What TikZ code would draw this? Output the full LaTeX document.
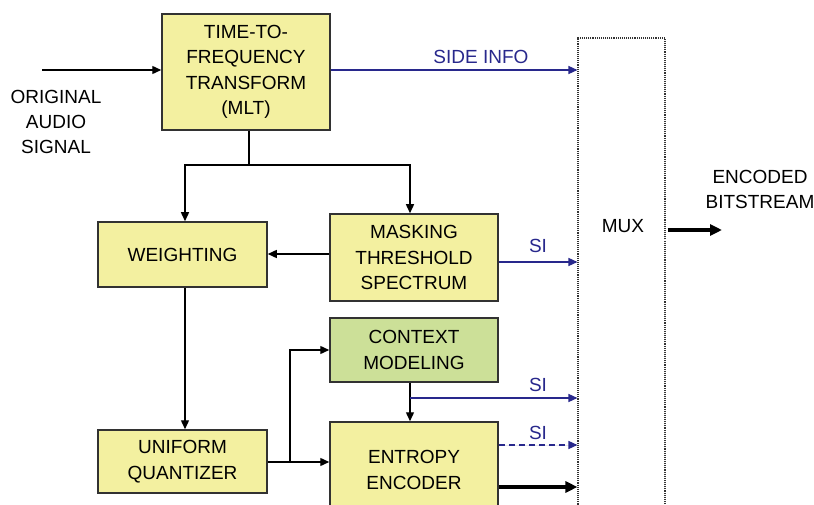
\documentclass[tikz,border=0pt]{standalone}
\usepackage{fontspec}
\setmainfont{Liberation Sans}
\usetikzlibrary{arrows.meta}
\definecolor{boxyellow}{RGB}{243,240,160}
\definecolor{boxgreen}{RGB}{204,224,152}
\definecolor{sinavy}{RGB}{40,40,140}
\definecolor{edgegray}{RGB}{50,50,50}
\begin{document}
\begin{tikzpicture}[x=1pt,y=-1pt,
  blk/.style={draw=edgegray, line width=1.5pt, fill=boxyellow, align=center, inner sep=0pt,
    font=\fontsize{19}{25.5}\selectfont},
  lbl/.style={align=center, inner sep=0pt, font=\fontsize{19}{25}\selectfont},
  silbl/.style={lbl, text=sinavy},
  arr/.style={line width=1.4pt, -{Triangle[length=9pt,width=8pt]}},
  siarr/.style={arr, draw=sinavy, fill=sinavy},
  thick arr/.style={line width=3.2pt, -{Triangle[length=12pt,width=11pt]}}
]
\useasboundingbox (0,0) rectangle (814,505);
\clip (0,0) rectangle (814,505);
% blocks
\node[blk, minimum width=168pt, minimum height=116pt] (ttf) at (246,72) {TIME-TO-\\FREQUENCY\\TRANSFORM\\(MLT)};
\node[blk, minimum width=169pt, minimum height=65pt] (wt) at (182.5,254.5) {WEIGHTING};
\node[blk, minimum width=168pt, minimum height=87pt] (mask) at (414,257.5) {MASKING\\THRESHOLD\\SPECTRUM};
\node[blk, minimum width=169pt, minimum height=63pt] (uq) at (182.5,461.5) {UNIFORM\\QUANTIZER};
\node[blk, fill=boxgreen, minimum width=168pt, minimum height=64pt] (cm) at (414,350) {CONTEXT\\MODELING};
\node[blk, minimum width=168pt, minimum height=96pt] (ee) at (414,470) {ENTROPY\\ENCODER};
\node[draw=black!80, densely dotted, line width=1.1pt, minimum width=87pt, minimum height=482pt, inner sep=0pt] (mux) at (621.5,279) {};
\node[lbl] (muxlbl) at (623,226) {MUX};
% texts
\node[lbl] (orig) at (56,122) {ORIGINAL\\AUDIO\\SIGNAL};
\node[lbl] (enc) at (760,189) {ENCODED\\BITSTREAM};
\node[silbl] (side) at (481,57) {SIDE INFO};
\node[silbl] (si1) at (538,246) {SI};
\node[silbl] (si2) at (538,385) {SI};
\node[silbl] (si3) at (538,433) {SI};
% coordinates
\coordinate (in) at (42,70);
\coordinate (split) at (249,165);
\coordinate (branch) at (290,462);
\coordinate (out) at (722,230);
\coordinate (cmsplit) at (410,398);
% connectors
\draw[arr] (in) -- (in -| ttf.west);
\draw[siarr] (ttf.east |- in) -- (in -| mux.west);
\draw[line width=1.4pt] (ttf.south -| split) -- (split);
\draw[arr] (split) -| (185,0 |- wt.north);
\draw[arr] (split) -| (410,0 |- mask.north);
\draw[arr] (mask.west |- 0,254) -- (wt.east |- 0,254);
\draw[siarr] (mask.east |- 0,262) -- (mux.west |- 0,262);
\draw[arr] (185,0 |- wt.south) -- (185,0 |- uq.north);
\draw[arr] (uq.east |- branch) -- (ee.west |- branch);
\draw[arr] (branch) |- (cm.west |- 0,350);
\draw[arr] (410,0 |- cm.south) -- (410,0 |- ee.north);
\draw[siarr] (cmsplit) -- (mux.west |- cmsplit);
\draw[siarr, dash pattern=on 6pt off 4pt] (ee.east |- 0,445) -- (mux.west |- 0,445);
\draw[thick arr] (ee.east |- 0,487) -- (mux.west |- 0,487);
\draw[thick arr] (mux.east |- out) ++(2,0) -- (out);
\end{tikzpicture}
\end{document}
